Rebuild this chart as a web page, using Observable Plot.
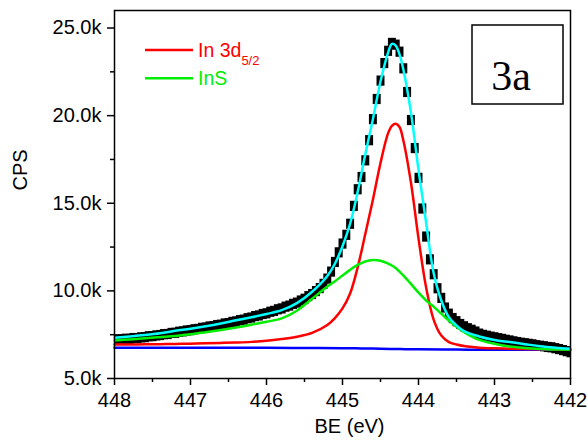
<!DOCTYPE html>
<html><head><meta charset="utf-8">
<script src="https://cdn.jsdelivr.net/npm/d3@7"></script>
<script src="https://cdn.jsdelivr.net/npm/@observablehq/plot@0.6"></script>
<style>body{margin:0;background:#fff}</style>
</head><body><div id="chart"></div>
<script>
// Experimental data (BE in eV, counts per second)
const dataBE = [
 448.00,447.95,447.90,447.85,447.80,447.75,447.70,447.65,447.60,447.55,
 447.50,447.45,447.40,447.35,447.30,447.25,447.20,447.15,447.10,447.05,
 447.00,446.95,446.90,446.85,446.80,446.75,446.70,446.65,446.60,446.55,
 446.50,446.45,446.40,446.35,446.30,446.25,446.20,446.15,446.10,446.05,
 446.00,445.95,445.90,445.85,445.80,445.75,445.70,445.65,445.60,445.55,
 445.50,445.45,445.40,445.35,445.30,445.25,445.20,445.15,445.10,445.05,
 445.00,444.95,444.90,444.85,444.80,444.75,444.70,444.65,444.60,444.55,
 444.50,444.45,444.40,444.35,444.30,444.25,444.20,444.15,444.10,444.05,
 444.00,443.95,443.90,443.85,443.80,443.75,443.70,443.65,443.60,443.55,
 443.50,443.45,443.40,443.35,443.30,443.25,443.20,443.15,443.10,443.05,
 443.00,442.95,442.90,442.85,442.80,442.75,442.70,442.65,442.60,442.55,
 442.50,442.45,442.40,442.35,442.30,442.25,442.20,442.15,442.10,442.05,
 442.00];
const dataCPS = [
 7200,7240,7230,7270,7260,7310,7300,7350,7360,7410,
 7420,7460,7480,7530,7540,7600,7610,7670,7690,7740,
 7760,7810,7830,7890,7910,7970,7990,8050,8070,8140,
 8160,8230,8260,8330,8360,8440,8480,8560,8600,8680,
 8720,8810,8860,8950,9000,9100,9160,9260,9330,9450,
 9550,9700,9820,9990,10160,10400,10700,11100,11650,12200,
 12700,13200,13830,14850,15800,16500,17450,18600,19800,20950,
 22000,23000,23700,24150,24050,23650,22700,21350,19750,18150,
 16450,14700,13100,11800,10950,10150,9600,9050,8700,8450,
 8270,8110,7980,7870,7780,7680,7560,7490,7440,7390,
 7350,7300,7260,7210,7170,7120,7080,7040,7010,6980,
 6950,6900,6870,6840,6800,6780,6730,6680,6620,6560,
 6500];

// Fitted curves
const fitBE = [448.0,447.8,447.6,447.4,447.2,447.0,446.8,446.6,446.4,446.2,
 446.0,445.8,445.6,445.4,445.2,445.1,445.0,444.9,444.8,444.7,
 444.6,444.5,444.4,444.35,444.3,444.25,444.2,444.1,444.0,443.9,
 443.8,443.7,443.6,443.5,443.4,443.2,443.0,442.8,442.6,442.4,
 442.2,442.0];
const envelope = [7330,7400,7480,7580,7720,7840,7980,8140,8320,8490,
 8680,8900,9300,9950,10850,11550,12550,13830,15650,17800,
 19800,21950,23600,24100,24000,23500,22650,20200,16900,13900,
 11000,9450,8500,8030,7700,7400,7200,7080,6960,6840,
 6760,6700];
const in3d = [6940,6945,6950,6960,6975,6990,7010,7030,7055,7090,
 7150,7250,7380,7600,8050,8450,9000,9850,11350,13250,
 15200,17300,19000,19420,19540,19350,18600,16200,13000,10200,
 8350,7450,7080,6940,6850,6760,6720,6700,6680,6670,
 6660,6650];
const inS = [7170,7230,7290,7360,7430,7520,7640,7770,7910,8070,
 8240,8430,8870,9550,10250,10550,10880,11200,11480,11680,
 11760,11720,11560,11450,11300,11100,10880,10400,9900,9450,
 9100,8700,8300,7950,7650,7200,6980,6820,6740,6690,
 6660,6640];
const bgBE = [448,447,446,445.5,445,444.75,444.5,444.25,444,443.5,443,442];
const background = [6760,6755,6748,6740,6728,6715,6700,6680,6665,6650,6645,6640];

// Ticks
const xTicks = [448,447,446,445,444,443,442];
const xMinor = [447.5,446.5,445.5,444.5,443.5,442.5];
const yTicks = [5000,10000,15000,20000,25000];
const yMinor = [7500,12500,17500,22500];

// Texts
const xLabel = "BE (eV)";
const yLabel = "CPS";
const legendItems = [
  {label: "In 3d", sub: "5/2", color: "#ff0000"},
  {label: "InS", sub: "", color: "#00ee00"}
];
const panelLabel = "3a";

const pts = dataBE.map((x, i) => ({x, y: dataCPS[i]}));
const fit = (arr) => fitBE.map((x, i) => ({x, y: arr[i]}));
const bg = bgBE.map((x, i) => ({x, y: background[i]}));

// slightly tall square marker, as in the reference
const tallSquare = {
  draw(ctx, size) {
    const s = Math.sqrt(size);
    const w = s * 0.9, h = s * 1.15;
    ctx.rect(-w / 2, -h / 2, w, h);
  }
};

const chart = Plot.plot({
  width: 587, height: 442,
  marginLeft: 114, marginRight: 17, marginTop: 10, marginBottom: 64,
  style: {fontFamily: "'Liberation Sans', Arial, sans-serif", fontSize: "20px", color: "black", background: "white"},
  x: {domain: [448, 442]},
  y: {domain: [5000, 26000]},
  marks: [
    Plot.dot(pts, {x: "x", y: "y", symbol: tallSquare, r: 5, fill: "black", stroke: "none", clip: true}),
    Plot.line(bg, {x: "x", y: "y", stroke: "#0000ff", strokeWidth: 2.5, curve: "catmull-rom"}),
    Plot.line(fit(in3d), {x: "x", y: "y", stroke: "#ff0000", strokeWidth: 2.5, curve: "catmull-rom"}),
    Plot.line(fit(inS), {x: "x", y: "y", stroke: "#00ee00", strokeWidth: 2.5, curve: "catmull-rom"}),
    Plot.line(fit(envelope), {x: "x", y: "y", stroke: "#00ffff", strokeWidth: 2.5, curve: "catmull-rom"}),
    Plot.frame({stroke: "black", strokeWidth: 1.5}),
    Plot.axisX({ticks: xTicks, tickSize: 7, tickPadding: 7, strokeWidth: 1.5, label: null, tickFormat: d => String(d)}),
    Plot.axisX({ticks: xMinor, tickSize: 4, strokeWidth: 1.5, label: null, tickFormat: () => ""}),
    Plot.axisY({ticks: yTicks, tickSize: 7, tickPadding: 6, strokeWidth: 1.5, label: null, tickFormat: d => (d / 1000).toFixed(1) + "k"}),
    Plot.axisY({ticks: yMinor, tickSize: 4, strokeWidth: 1.5, label: null, tickFormat: () => ""})
  ]
});
document.getElementById("chart").appendChild(chart);

const svg = d3.select(chart);
svg.append("text").attr("x", 349.5).attr("y", 433).attr("text-anchor", "middle")
  .attr("font-size", 20).attr("fill", "black").text(xLabel);
svg.append("text").attr("transform", "translate(26.5,170) rotate(-90)").attr("text-anchor", "middle")
  .attr("font-size", 20).attr("fill", "black").text(yLabel);

legendItems.forEach((d, i) => {
  const y = 50 + i * 28.3;
  svg.append("line").attr("x1", 145).attr("x2", 193).attr("y1", y).attr("y2", y)
    .attr("stroke", d.color).attr("stroke-width", 2.5);
  const t = svg.append("text").attr("x", 198).attr("y", y + 7).attr("text-anchor", "start")
    .attr("fill", d.color).attr("font-size", 19.5).text(d.label);
  if (d.sub) t.append("tspan").attr("dy", 8).attr("font-size", 13).text(d.sub);
});

svg.append("rect").attr("x", 472).attr("y", 25).attr("width", 91).attr("height", 79)
  .attr("fill", "white").attr("stroke", "black").attr("stroke-width", 1.5);
svg.append("text").attr("x", 511).attr("y", 90).attr("text-anchor", "middle")
  .attr("font-family", "'Liberation Serif', 'Times New Roman', serif").attr("font-size", 42)
  .attr("fill", "black").text(panelLabel);
</script>
</body></html>
